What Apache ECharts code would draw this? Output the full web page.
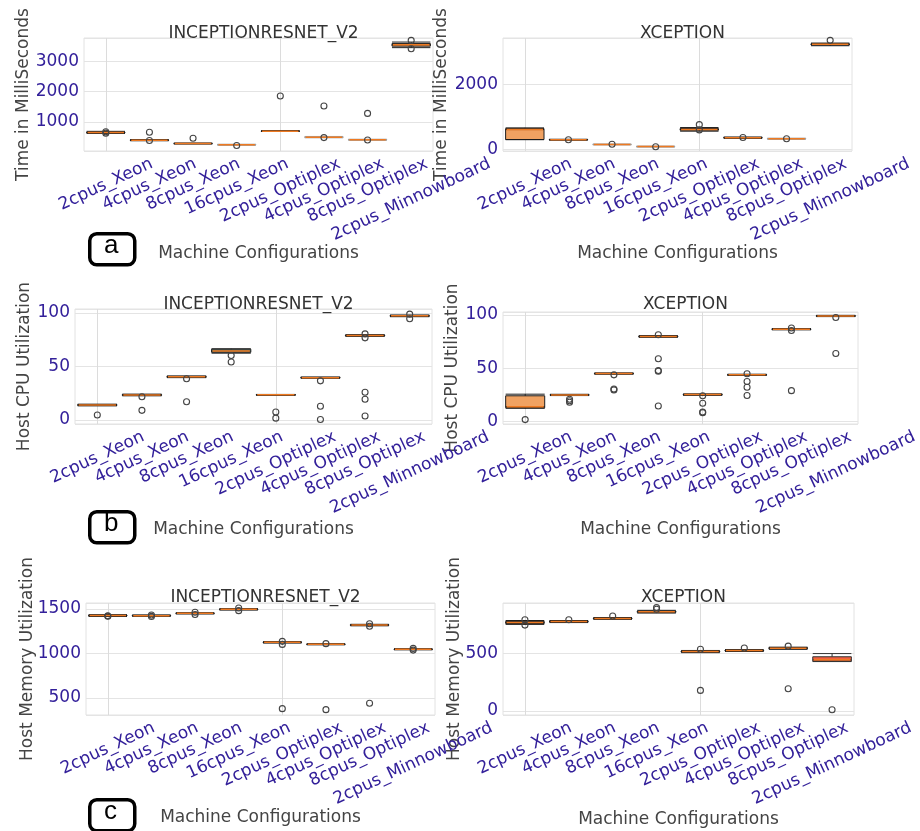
<!DOCTYPE html>
<html>
<head>
<meta charset="utf-8">
<title>Boxplots</title>
<script src="https://cdn.jsdelivr.net/npm/echarts@6/dist/echarts.min.js"></script>
<style>
  html, body { margin: 0; padding: 0; background: #fff; }
  #main { width: 920px; height: 831px; }
</style>
</head>
<body>
<div id="main"></div>
<script>
var categories = ['2cpus_Xeon', '4cpus_Xeon', '8cpus_Xeon', '16cpus_Xeon',
    '2cpus_Optiplex', '4cpus_Optiplex', '8cpus_Optiplex', '2cpus_Minnowboard'];

// [min, Q1, median, Q3, max] for each configuration, outliers as [configIndex, value]
var timeIncBoxes = [
    [615, 635, 648, 660, 685], [372, 385, 393, 400, 412], [265, 274, 281, 288, 297],
    [222, 232, 240, 248, 258], [680, 687, 692, 697, 705], [470, 483, 492, 502, 515],
    [388, 398, 406, 414, 424], [3460, 3510, 3555, 3595, 3645]
];
var timeIncOutliers = [[0, 625], [0, 670], [1, 657], [1, 380], [2, 457], [3, 215], [4, 1857],
    [5, 1523], [5, 478], [6, 1280], [6, 400], [7, 3700], [7, 3425]];

var timeXcpBoxes = [
    [300, 305, 610, 640, 662], [285, 292, 299, 306, 313], [140, 147, 153, 159, 166],
    [75, 82, 89, 95, 102], [560, 590, 614, 640, 672], [340, 351, 362, 371, 381],
    [310, 320, 330, 338, 346], [3180, 3202, 3225, 3242, 3262]
];
var timeXcpOutliers = [[1, 300], [2, 158], [3, 85], [4, 760], [4, 600], [5, 365], [6, 330], [7, 3345]];

var cpuIncBoxes = [
    [13.2, 13.6, 14, 14.4, 14.8], [22.6, 23, 23.4, 23.8, 24.2], [39.6, 40, 40.4, 40.8, 41.2],
    [62.5, 63.3, 64.5, 66.2, 66.6], [23.1, 23.3, 23.5, 23.7, 23.9], [39, 39.3, 39.6, 39.9, 40.2],
    [78.2, 78.6, 79, 79.4, 79.8], [96.6, 97, 97.4, 97.8, 98.2]
];
var cpuIncOutliers = [[0, 4.6], [1, 21.8], [1, 9], [2, 38.6], [2, 17], [3, 60.3], [3, 54.3],
    [4, 7.5], [4, 1.7], [5, 36.6], [5, 12.8], [5, 0.4], [6, 80.5], [6, 76.8], [6, 26], [6, 19.4],
    [6, 3.8], [7, 99], [7, 94.7]];

var cpuXcpBoxes = [
    [12.5, 13, 14, 24.2, 25.7], [24.4, 24.7, 25, 25.3, 25.6], [44.4, 44.7, 45, 45.3, 45.6],
    [78.9, 79.3, 79.7, 80.1, 80.5], [24.6, 25, 25.3, 25.6, 26], [43.2, 43.5, 43.8, 44.1, 44.4],
    [85.9, 86.2, 86.5, 86.8, 87.1], [98.3, 98.6, 98.9, 99.2, 99.5]
];
var cpuXcpOutliers = [[0, 1.9], [1, 21], [1, 19.5], [1, 18.2], [2, 43.8], [2, 30.6], [2, 29.7],
    [3, 81.3], [3, 58.8], [3, 47.8], [3, 47.2], [3, 14.7], [4, 24.2], [4, 17.2], [4, 8.4], [4, 9],
    [5, 44.8], [5, 37.5], [5, 32.2], [5, 24.4], [6, 87.6], [6, 85.3], [6, 29], [7, 97.4], [7, 63.8]];

var memIncBoxes = [
    [1415, 1420, 1425, 1430, 1435], [1416, 1420, 1424, 1428, 1432], [1443, 1447, 1450, 1453, 1457],
    [1487, 1491, 1495, 1499, 1503], [1117, 1121, 1125, 1129, 1133], [1097, 1100, 1103, 1106, 1109],
    [1310, 1315, 1319, 1323, 1327], [1041, 1044, 1047, 1050, 1053]
];
var memIncOutliers = [[0, 1422], [0, 1417], [1, 1432], [1, 1416], [2, 1463], [2, 1437], [3, 1510],
    [3, 1480], [4, 1136], [4, 1102], [4, 381], [5, 1110], [5, 370], [6, 1333], [6, 1305], [6, 441],
    [7, 1057], [7, 1038]];

var memXcpBoxes = [
    [755, 763, 772, 781, 789], [771, 775, 780, 785, 789], [799, 803, 807, 811, 815],
    [854, 860, 866, 872, 878], [508, 513, 518, 522, 527], [518, 522, 527, 531, 535],
    [537, 542, 547, 552, 556], [430, 432, 445, 472, 500]
];
var memXcpOutliers = [[0, 796], [0, 749], [1, 796], [2, 829], [3, 902], [3, 888], [4, 538], [4, 178],
    [5, 548], [6, 565], [6, 192], [7, 9]];

// y axis extents and tick step per panel: [min, max, step]
var timeIncAxis = [33, 3780, 1000];
var timeXcpAxis = [-47, 3417, 2000];
var cpuIncAxis = [-3.75, 103.8, 50];
var cpuXcpAxis = [-2.2, 102.6, 50];
var memIncAxis = [310, 1566, 500];
var memXcpAxis = [-37, 942, 500];

// ---- styles ----
var O = 'o', L = 'l', T = 't', R = 'r';
var boxLook = {
    o: { color: '#f0a262', borderColor: '#1e1e1e' },
    l: { color: '#f7cba3', borderColor: '#a0a0a0' },
    t: { color: '#8cb8a2', borderColor: '#1e1e1e' },
    r: { color: '#f4603f', borderColor: '#333333' }
};
var INDIGO = '#33209a';
var FONT = 'DejaVu Sans';
var TICK_SIZE = 17;

var panels = [
    { title: 'INCEPTIONRESNET_V2', yName: 'Time in MilliSeconds', boxes: timeIncBoxes, outliers: timeIncOutliers,
      axis: timeIncAxis, looks: [O, O, O, L, O, L, L, O],
      grid: [84, 38, 349, 113], yGap: 52, xGap: 94, titleTop: 20 },
    { title: 'XCEPTION', yName: 'Time in MilliSeconds', boxes: timeXcpBoxes, outliers: timeXcpOutliers,
      axis: timeXcpAxis, looks: [O, O, L, L, O, O, L, O],
      grid: [503, 38, 349, 113], yGap: 53, xGap: 94, titleTop: 20 },
    { title: 'INCEPTIONRESNET_V2', yName: 'Host CPU Utilization', boxes: cpuIncBoxes, outliers: cpuIncOutliers,
      axis: cpuIncAxis, looks: [O, O, O, T, O, O, O, O],
      grid: [75, 309, 357, 115], yGap: 42, xGap: 97, titleTop: 291 },
    { title: 'XCEPTION', yName: 'Host CPU Utilization', boxes: cpuXcpBoxes, outliers: cpuXcpOutliers,
      axis: cpuXcpAxis, looks: [O, O, O, O, O, O, O, O],
      grid: [503, 312, 355, 112], yGap: 42, xGap: 97, titleTop: 291 },
    { title: 'INCEPTIONRESNET_V2', yName: 'Host Memory Utilization', boxes: memIncBoxes, outliers: memIncOutliers,
      axis: memIncAxis, looks: [O, O, O, O, O, O, O, O],
      grid: [86, 603, 349, 112], yGap: 50, xGap: 94, titleTop: 584 },
    { title: 'XCEPTION', yName: 'Host Memory Utilization', boxes: memXcpBoxes, outliers: memXcpOutliers,
      axis: memXcpAxis, looks: [O, O, O, T, O, O, O, R],
      grid: [503, 603, 351, 112], yGap: 40, xGap: 96, titleTop: 584 }
];

// rotated tick labels are centred under their tick with the tops lined up
var ROT = 25 * Math.PI / 180;
var ctx = document.createElement('canvas').getContext('2d');
ctx.font = TICK_SIZE + 'px "' + FONT + '"';

function tickLabelSeries(p, i) {
    return {
        type: 'custom', xAxisIndex: i, yAxisIndex: i, z: 6, silent: true, clip: false,
        data: categories.map(function (c, j) { return [j, p.axis[0]]; }),
        encode: { x: 0, y: 1 },
        renderItem: function (params, api) {
            var name = categories[params.dataIndex];
            var pt = api.coord([api.value(0), api.value(1)]);
            var w = ctx.measureText(name).width;
            return {
                type: 'text', x: pt[0], y: pt[1] + 12 + w * Math.sin(ROT) / 2, rotation: ROT,
                style: { text: name, align: 'center', verticalAlign: 'middle',
                    fontFamily: FONT, fontSize: TICK_SIZE, fill: INDIGO }
            };
        }
    };
}

var option = {
    animation: false,
    backgroundColor: '#fff',
    title: [], grid: [], xAxis: [], yAxis: [], series: [],
    graphic: []
};

panels.forEach(function (p, i) {
    var g = p.grid;
    option.title.push({
        text: p.title, left: g[0] + g[2] / 2, top: p.titleTop, textAlign: 'center',
        textStyle: { fontFamily: FONT, fontSize: 17, fontWeight: 'normal', color: '#333' }
    });
    option.grid.push({
        left: g[0], top: g[1], width: g[2], height: g[3], containLabel: false, outerBoundsMode: 'none',
        show: true, backgroundColor: '#fff', borderColor: '#e2e2e2', borderWidth: 1
    });
    option.xAxis.push({
        type: 'category', gridIndex: i, data: categories, boundaryGap: true,
        axisLine: { show: false }, axisTick: { show: false }, axisLabel: { show: false },
        splitLine: { show: true, alignWithLabel: true, lineStyle: { color: '#dcdcdc', width: 1 } },
        name: 'Machine Configurations', nameLocation: 'middle', nameGap: p.xGap, nameMoveOverlap: false,
        nameTextStyle: { fontFamily: FONT, fontSize: 17, color: '#444' }
    });
    option.yAxis.push({
        type: 'value', gridIndex: i, min: p.axis[0], max: p.axis[1],
        minInterval: p.axis[2], maxInterval: p.axis[2], splitNumber: 3,
        axisLine: { show: false }, axisTick: { show: false },
        axisLabel: { showMinLabel: false, showMaxLabel: false, margin: 5, fontSize: TICK_SIZE,
            fontFamily: FONT, color: INDIGO, formatter: function (v) { return String(v); } },
        splitLine: { show: true, lineStyle: { color: '#e4e4e4', width: 1 } },
        name: p.yName, nameLocation: 'middle', nameGap: p.yGap, nameMoveOverlap: false,
        nameTextStyle: { fontFamily: FONT, fontSize: 17, color: '#444' }
    });
    option.series.push({
        type: 'boxplot', xAxisIndex: i, yAxisIndex: i, boxWidth: ['88%', '88%'], z: 3,
        itemStyle: { borderWidth: 1 },
        data: p.boxes.map(function (v, j) {
            var look = boxLook[p.looks[j]];
            return { value: v, itemStyle: { color: look.color, borderColor: look.borderColor, borderWidth: 1 } };
        })
    });
    option.series.push({
        type: 'custom', xAxisIndex: i, yAxisIndex: i, z: 4, silent: true,
        data: p.boxes.map(function (v, j) { return [j, v[2]]; }),
        encode: { x: 0, y: 1 },
        renderItem: function (params, api) {
            var pt = api.coord([api.value(0), api.value(1)]);
            var half = api.size([1, 0])[0] * 0.88 / 2 - 1;
            return {
                type: 'line',
                shape: { x1: pt[0] - half, y1: pt[1], x2: pt[0] + half, y2: pt[1] },
                style: { stroke: '#ee7a22', lineWidth: 1.5 }
            };
        }
    });
    option.series.push({
        type: 'scatter', xAxisIndex: i, yAxisIndex: i, z: 5, symbol: 'circle', symbolSize: 6,
        data: p.outliers,
        itemStyle: { color: 'rgba(255,255,255,0)', borderColor: '#444', borderWidth: 1.1, opacity: 1 }
    });
    option.series.push(tickLabelSeries(p, i));
});

// panel letters
[['a', 232], ['b', 510], ['c', 798]].forEach(function (m) {
    option.graphic.push({
        type: 'rect', left: 88, top: m[1], z: 10,
        shape: { width: 45, height: 31, r: 7 },
        style: { fill: '#fff', stroke: '#000', lineWidth: 3.5 }
    });
    option.graphic.push({
        type: 'text', left: 104, top: m[1] + 1, z: 11,
        style: { text: m[0], fontFamily: 'Liberation Sans', fontSize: 26, fill: '#000' }
    });
});

var chart = echarts.init(document.getElementById('main'), null, { renderer: 'canvas' });
chart.setOption(option);
</script>
</body>
</html>
